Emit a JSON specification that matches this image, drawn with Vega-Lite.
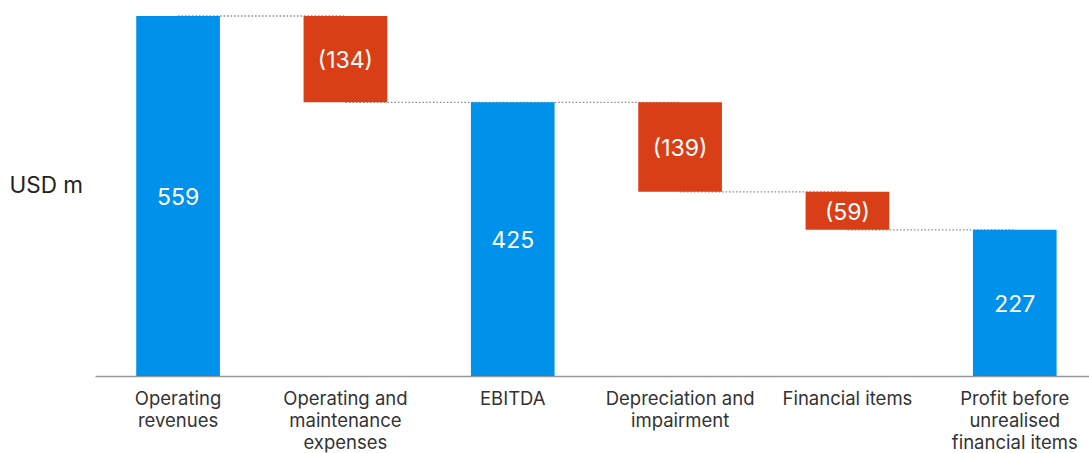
{
  "$schema": "https://vega.github.io/schema/vega-lite/v6.json",
  "width": 994,
  "height": 360,
  "autosize": "none",
  "padding": {"left": 95, "top": 16, "right": 0, "bottom": 77},
  "background": "white",
  "config": {"view": {"stroke": null}, "font": "Inter"},
  "data": {
    "values": [
      {"category": "Operating revenues", "next": "Operating and maintenance expenses", "start": 0, "end": 559, "kind": "total", "label": "559"},
      {"category": "Operating and maintenance expenses", "next": "EBITDA", "start": 559, "end": 425, "kind": "decrease", "label": "(134)"},
      {"category": "EBITDA", "next": "Depreciation and impairment", "start": 0, "end": 425, "kind": "total", "label": "425"},
      {"category": "Depreciation and impairment", "next": "Financial items", "start": 425, "end": 286, "kind": "decrease", "label": "(139)"},
      {"category": "Financial items", "next": "Profit before unrealised financial items", "start": 286, "end": 227, "kind": "decrease", "label": "(59)"},
      {"category": "Profit before unrealised financial items", "next": null, "start": 0, "end": 227, "kind": "total", "label": "227"}
    ]
  },
  "encoding": {
    "x": {
      "field": "category",
      "type": "nominal",
      "sort": null,
      "scale": {"paddingInner": 0.5, "paddingOuter": 0.22, "align": 0.56},
      "axis": {
        "title": null,
        "labelAngle": 0,
        "labelFontSize": 18.5,
        "labelColor": "#333333",
        "labelLineHeight": 22,
        "labelPadding": 13,
        "labelBaseline": "top",
        "ticks": false,
        "domainColor": "#999999",
        "domainWidth": 1.5,
        "labelLimit": 300,
        "labelExpr": "datum.label == 'Operating revenues' ? ['Operating', 'revenues'] : datum.label == 'Operating and maintenance expenses' ? ['Operating and', 'maintenance', 'expenses'] : datum.label == 'Depreciation and impairment' ? ['Depreciation and', 'impairment'] : datum.label == 'Profit before unrealised financial items' ? ['Profit before', 'unrealised', 'financial items'] : datum.label"
      }
    }
  },
  "layer": [
    {
      "transform": [{"filter": "datum.next != null"}],
      "mark": {"type": "rule", "strokeDash": [1.5, 2], "color": "#8a8a8a", "strokeWidth": 1.3},
      "encoding": {
        "x2": {"field": "next"},
        "y": {"field": "end", "type": "quantitative"}
      }
    },
    {
      "mark": {"type": "bar", "width": {"band": 1}},
      "encoding": {
        "y": {
          "field": "start",
          "type": "quantitative",
          "scale": {"domain": [0, 559], "nice": false, "zero": true},
          "axis": {
            "title": "USD m",
            "titleAngle": 0,
            "titleAlign": "left",
            "titleBaseline": "middle",
            "titleX": -86,
            "titleY": 169,
            "titleFontSize": 22.5,
            "titleFontWeight": "normal",
            "titleColor": "#222222",
            "labels": false,
            "ticks": false,
            "domain": false,
            "grid": false
          }
        },
        "y2": {"field": "end"},
        "color": {
          "field": "kind",
          "type": "nominal",
          "scale": {"domain": ["total", "decrease"], "range": ["#0091EA", "#D83F16"]},
          "legend": null
        }
      }
    },
    {
      "transform": [{"calculate": "(datum.start + datum.end) / 2", "as": "mid"}],
      "mark": {"type": "text", "color": "white", "fontSize": 23, "baseline": "middle", "align": "center", "dy": 2},
      "encoding": {
        "y": {"field": "mid", "type": "quantitative"},
        "text": {"field": "label"}
      }
    }
  ]
}
